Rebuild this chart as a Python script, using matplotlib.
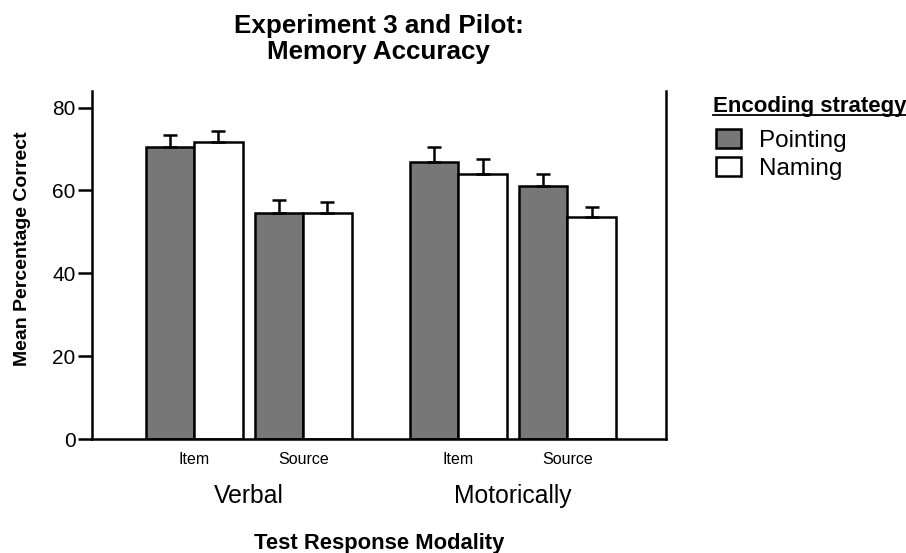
import matplotlib
matplotlib.use("Agg")
import matplotlib.pyplot as plt
from matplotlib.lines import Line2D
from matplotlib.patches import Patch

plt.rcParams["font.family"] = ["Liberation Sans", "DejaVu Sans"]

groups = ["Verbal", "Motorically"]
measures = ["Item", "Source", "Item", "Source"]
pointing = [70.5, 54.6, 66.9, 61.1]
naming = [71.6, 54.6, 64.0, 53.7]
pointingErr = [2.8, 3.0, 3.5, 2.8]
namingErr = [2.8, 2.6, 3.5, 2.3]

# centre of each Pointing/Naming pair
centers = [0.0, 2.25, 5.45, 7.7]
width = 1.0
gray = "#777777"

fig = plt.figure(figsize=(9.06, 5.53), dpi=100)
ax = fig.add_axes([0.1019, 0.2056, 0.633, 0.630])

errKw = dict(ecolor="black", elinewidth=1.8, capsize=5, capthick=1.8)
left = [c - width / 2 for c in centers]
right = [c + width / 2 for c in centers]
ax.bar(left, pointing, width, color=gray, edgecolor="black", linewidth=1.8,
       yerr=[[0] * 4, pointingErr], error_kw=errKw, zorder=2)
ax.bar(right, naming, width, color="white", edgecolor="black", linewidth=1.8,
       yerr=[[0] * 4, namingErr], error_kw=errKw, zorder=2)

ax.set_xlim(-2.1, 9.73)
ax.set_ylim(0, 84)
ax.set_yticks([0, 20, 40, 60, 80])
ax.tick_params(axis="y", labelsize=15, length=10, width=1.8, pad=2)
ax.set_xticks(centers, measures)
ax.tick_params(axis="x", labelsize=11.5, length=0, pad=9)
for side in ["left", "right", "bottom"]:
    ax.spines[side].set_linewidth(1.8)
ax.spines["top"].set_visible(False)

ax.set_ylabel("Mean Percentage Correct", fontsize=14, fontweight="bold")
ax.yaxis.set_label_coords(-0.107, 0.546)

for name, a, b in zip(groups, centers[0::2], centers[1::2]):
    ax.text((a + b) / 2, -0.163, name, transform=ax.get_xaxis_transform(),
            ha="center", va="center", fontsize=17.8)

fig.text(0.418, 1 - 543 / 553, "Test Response Modality", ha="center",
         va="center", fontsize=15.8, fontweight="bold")
fig.text(0.418, 1 - 39 / 553, "Experiment 3 and Pilot:\nMemory Accuracy",
         ha="center", va="center", fontsize=18.7, fontweight="bold",
         linespacing=1.12)

# legend with an underlined heading
head = fig.text(0.787, 1 - 112 / 553, "Encoding strategy", ha="left",
                va="baseline", fontsize=16, fontweight="bold")
fig.canvas.draw()
bb = head.get_window_extent().transformed(fig.transFigure.inverted())
lineY = 1 - 115 / 553
fig.add_artist(Line2D([bb.x0, bb.x1], [lineY, lineY], color="black",
                      linewidth=1.3, transform=fig.transFigure))

handles = [Patch(facecolor=gray, edgecolor="black", linewidth=1.8),
           Patch(facecolor="white", edgecolor="black", linewidth=1.8)]
fig.legend(handles, ["Pointing", "Naming"], loc="upper left",
           bbox_to_anchor=(0.772, 1 - 112 / 553), frameon=False,
           fontsize=17.5, handlelength=1.0, handleheight=0.85,
           handletextpad=0.75, labelspacing=0.2, borderpad=0.2)

fig.savefig("out.png", dpi=100)
